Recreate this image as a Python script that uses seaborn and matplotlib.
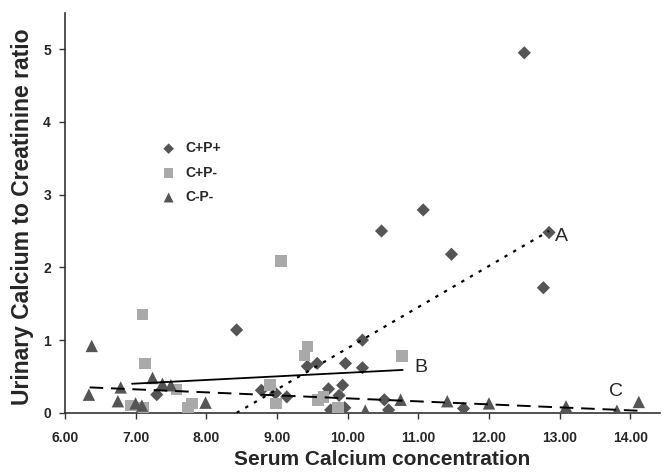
import numpy as np
import pandas as pd
import matplotlib
matplotlib.use("Agg")
import matplotlib.pyplot as plt
import seaborn as sns

# C+P+ (diamonds)
cpp_x = [12.50, 11.07, 10.48, 12.85, 11.47, 12.77, 8.43, 10.21, 9.97, 10.21, 9.43, 9.57,
         9.93, 9.73, 9.88, 8.78, 8.98, 9.14, 7.30, 10.52, 10.58, 11.64, 9.76, 9.96]
cpp_y = [4.95, 2.79, 2.50, 2.48, 2.18, 1.72, 1.14, 1.00, 0.68, 0.62, 0.64, 0.68,
         0.38, 0.33, 0.24, 0.31, 0.27, 0.22, 0.25, 0.18, 0.04, 0.06, 0.04, 0.07]

# C+P- (squares)
cpm_x = [9.06, 7.10, 7.13, 9.43, 9.39, 10.77, 8.90, 8.99, 7.58, 7.80, 7.74, 6.93,
         7.11, 9.58, 9.66, 9.86]
cpm_y = [2.09, 1.35, 0.68, 0.91, 0.79, 0.78, 0.38, 0.13, 0.32, 0.13, 0.07, 0.10,
         0.07, 0.18, 0.22, 0.07]

# C-P- (triangles)
cmm_x = [6.38, 6.34, 6.75, 6.79, 7.00, 7.09, 7.24, 7.38, 7.50, 7.99, 10.25, 10.75,
         11.41, 12.00, 13.09, 13.81, 14.12]
cmm_y = [0.92, 0.25, 0.16, 0.35, 0.13, 0.10, 0.48, 0.40, 0.38, 0.14, 0.03, 0.18,
         0.16, 0.13, 0.09, 0.03, 0.15]

# trend lines (end points)
line_a_x = [8.43, 12.85]
line_a_y = [0.0, 2.50]
line_b_x = [6.95, 10.78]
line_b_y = [0.40, 0.59]
line_c_x = [6.35, 14.10]
line_c_y = [0.35, 0.03]

df = pd.concat([
    pd.DataFrame({'x': cpp_x, 'y': cpp_y, 'grp': 'C+P+'}),
    pd.DataFrame({'x': cpm_x, 'y': cpm_y, 'grp': 'C+P-'}),
    pd.DataFrame({'x': cmm_x, 'y': cmm_y, 'grp': 'C-P-'}),
])

sns.set_style("ticks")
plt.rcParams['font.family'] = ['Liberation Sans', 'DejaVu Sans']

fig = plt.figure(figsize=(6.62, 4.74), dpi=100)
ax = fig.add_axes([0.098, 0.129, 0.899, 0.844])

palette = {'C+P+': '#555555', 'C+P-': '#a9a9a9', 'C-P-': '#555555'}
markers = {'C+P+': 'D', 'C+P-': 's', 'C-P-': '^'}
sizes = {'C+P+': 45, 'C+P-': 70, 'C-P-': 80}
for g in ['C+P+', 'C+P-', 'C-P-']:
    sub = df[df['grp'] == g]
    sns.scatterplot(data=sub, x='x', y='y', color=palette[g], marker=markers[g],
                    s=sizes[g], edgecolor='none', label=g, ax=ax, zorder=3)

sns.lineplot(x=line_a_x, y=line_a_y, ax=ax, color='black', lw=1.6,
             linestyle=(0, (1.5, 3)), zorder=4)
sns.lineplot(x=line_b_x, y=line_b_y, ax=ax, color='black', lw=1.3, zorder=4)
sns.lineplot(x=line_c_x, y=line_c_y, ax=ax, color='black', lw=1.4,
             linestyle=(0, (7, 4)), zorder=4)

ax.text(12.93, 2.42, 'A', fontsize=14, ha='left', va='center')
ax.text(10.95, 0.62, 'B', fontsize=14, ha='left', va='center')
ax.text(13.7, 0.29, 'C', fontsize=14, ha='left', va='center')

ax.set_xlim(6, 14.42)
ax.set_ylim(0, 5.5)
ax.set_xticks(np.arange(6, 15, 1))
ax.set_xticklabels([f'{v:.2f}' for v in np.arange(6, 15, 1)])
ax.set_yticks(range(6))
for lab in ax.get_xticklabels() + ax.get_yticklabels():
    lab.set_fontweight('bold')
    lab.set_fontsize(10)
ax.tick_params(axis='x', length=4, width=1, color='#333333', pad=9)
ax.tick_params(axis='y', length=4, width=1, color='#333333', pad=6)
for sp in ['left', 'bottom']:
    ax.spines[sp].set_color('#333333')
    ax.spines[sp].set_linewidth(1.2)
sns.despine(ax=ax)

ax.set_xlabel('Serum Calcium concentration', fontsize=15, fontweight='bold')
ax.set_ylabel('Urinary Calcium to Creatinine ratio', fontsize=16.5, fontweight='bold')
ax.xaxis.set_label_coords(0.533, -0.093)
ax.yaxis.set_label_coords(-0.052, 0.49)

leg = ax.legend(loc='upper left', bbox_to_anchor=(0.13, 0.71), frameon=False,
                prop={'weight': 'bold', 'size': 10}, handletextpad=0.2,
                labelspacing=0.75, markerscale=0.8)

fig.savefig('out.png', dpi=100)
